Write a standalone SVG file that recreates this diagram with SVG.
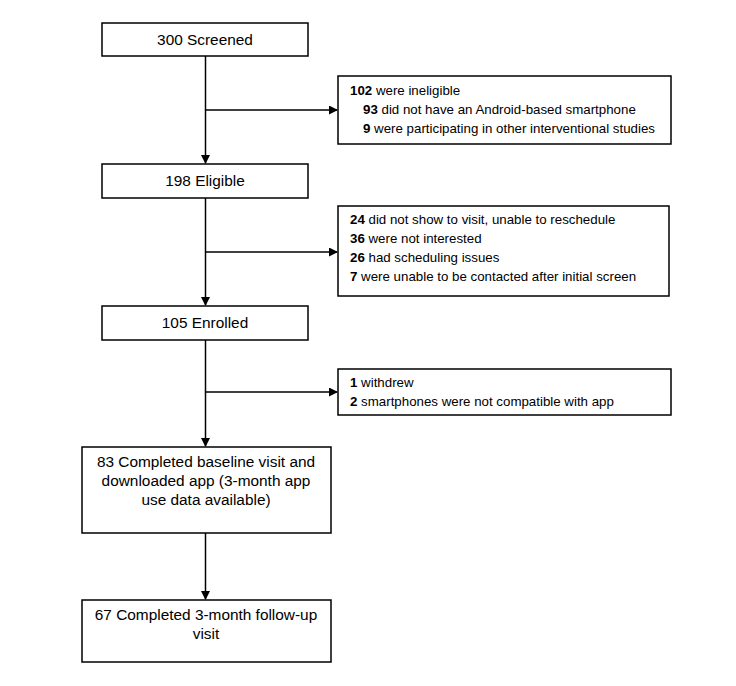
<svg xmlns="http://www.w3.org/2000/svg" width="736" height="686" viewBox="0 0 736 686">
<style>
.box{fill:#fff;stroke:#000;stroke-width:1.5}
.t{font-family:"Liberation Sans",Arial,sans-serif;font-size:15.4px;fill:#000}
.s{font-family:"Liberation Sans",Arial,sans-serif;font-size:13.3px;fill:#000}
.b{font-weight:bold}
.c{text-anchor:middle}
.ln{stroke:#000;stroke-width:1.5;fill:none}
</style>
<defs>
<marker id="ah" markerWidth="9" markerHeight="9" refX="8" refY="4.5" orient="auto" markerUnits="userSpaceOnUse">
<path d="M0,0 L9,4.5 L0,9 Z" fill="#000"/>
</marker>
</defs>
<rect width="736" height="686" fill="#fff"/>
<g id="connectors">
<line class="ln" x1="205.5" y1="56" x2="205.5" y2="163" marker-end="url(#ah)"/>
<line class="ln" x1="205.5" y1="110" x2="337" y2="110" marker-end="url(#ah)"/>
<line class="ln" x1="205.5" y1="198" x2="205.5" y2="305" marker-end="url(#ah)"/>
<line class="ln" x1="205.5" y1="252" x2="337" y2="252" marker-end="url(#ah)"/>
<line class="ln" x1="205.5" y1="340" x2="205.5" y2="446" marker-end="url(#ah)"/>
<line class="ln" x1="205.5" y1="392" x2="337" y2="392" marker-end="url(#ah)"/>
<line class="ln" x1="205.5" y1="533" x2="205.5" y2="599" marker-end="url(#ah)"/>
</g>
<g id="screened">
<rect class="box" x="102" y="23" width="206" height="33"/>
<text class="t c" x="205" y="45">300 Screened</text>
</g>
<g id="ineligible">
<rect class="box" x="338" y="76" width="333" height="68"/>
<text class="s" x="350" y="95"><tspan class="b">102</tspan> were ineligible</text>
<text class="s" x="363" y="114"><tspan class="b">93</tspan> did not have an Android-based smartphone</text>
<text class="s" x="363" y="133"><tspan class="b">9</tspan> were participating in other interventional studies</text>
</g>
<g id="eligible">
<rect class="box" x="102" y="164" width="206" height="34"/>
<text class="t c" x="205" y="186">198 Eligible</text>
</g>
<g id="excluded">
<rect class="box" x="338" y="206" width="331" height="90"/>
<text class="s" x="350" y="224"><tspan class="b">24</tspan> did not show to visit, unable to reschedule</text>
<text class="s" x="350" y="243"><tspan class="b">36</tspan> were not interested</text>
<text class="s" x="350" y="262"><tspan class="b">26</tspan> had scheduling issues</text>
<text class="s" x="350" y="281"><tspan class="b">7</tspan> were unable to be contacted after initial screen</text>
</g>
<g id="enrolled">
<rect class="box" x="102" y="306" width="206" height="34"/>
<text class="t c" x="205" y="328">105 Enrolled</text>
</g>
<g id="withdrawn">
<rect class="box" x="338" y="369" width="333" height="46"/>
<text class="s" x="350" y="387"><tspan class="b">1</tspan> withdrew</text>
<text class="s" x="350" y="406"><tspan class="b">2</tspan> smartphones were not compatible with app</text>
</g>
<g id="baseline">
<rect class="box" x="82" y="447" width="249" height="86"/>
<text class="t c" x="206" y="467">83 Completed baseline visit and</text>
<text class="t c" x="206" y="486">downloaded app (3-month app</text>
<text class="t c" x="206" y="505">use data available)</text>
</g>
<g id="followup">
<rect class="box" x="82" y="600" width="249" height="62"/>
<text class="t c" x="206" y="620">67 Completed 3-month follow-up</text>
<text class="t c" x="206" y="639">visit</text>
</g>
</svg>
